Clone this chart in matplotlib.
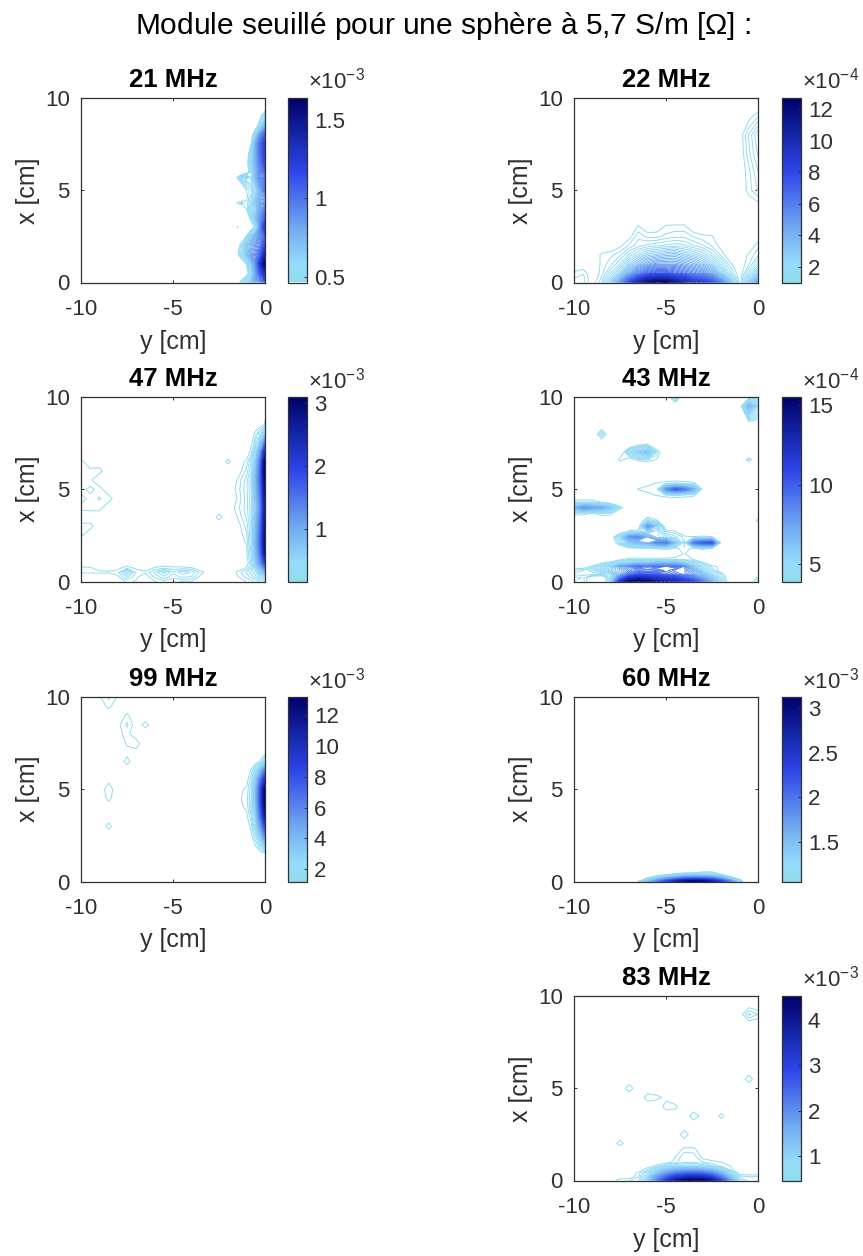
import numpy as np
import matplotlib
matplotlib.use('Agg')
import matplotlib.pyplot as plt
from matplotlib.colors import LinearSegmentedColormap, Normalize
from matplotlib.cm import ScalarMappable

plt.rcParams['font.family'] = ['Liberation Sans', 'DejaVu Sans']
plt.rcParams['mathtext.fontset'] = 'stix'
plt.rcParams['mathtext.default'] = 'regular'
plt.rcParams['axes.unicode_minus'] = False

W, H = 863, 1256
main_title = 'Module seuillé pour une sphère à 5,7 S/m ['
xlabel_text = 'y [cm]'
ylabel_text = 'x [cm]'
xticks = [-10, -5, 0]
yticks = [0, 5, 10]

# ---- 21 MHz (units 1e-3)
y21 = [-10, -2, -1.5, -1.25, -1, -.75, -.5, -.25, 0]
x21 = [0, .5, 1, 1.5, 2, 2.5, 3, 3.5, 4, 4.3, 4.7, 5, 5.4, 5.7, 6, 6.5, 7, 7.5, 8, 8.5, 9, 9.3, 10]
z21 = [
 [0, .2, .42, .52, .6, .7, .85, .95, 1.1],
 [0, .1, .25, .35, .42, .55, .85, 1.1, 1.35],
 [0, .1, .3, .38, .47, .65, .9, 1.3, 1.64],
 [0, .2, .45, .55, .7, .85, .95, 1.1, 1.4],
 [0, .2, .42, .52, .7, .8, .9, 1.0, 1.2],
 [0, .1, .3, .38, .47, .65, .8, .95, 1.1],
 [0, .05, .48, .2, .3, .4, .5, .9, 1.3],
 [0, .1, .2, .3, .4, .5, .7, .9, 1.1],
 [0, .1, .3, .35, .47, .6, .7, .85, 1.0],
 [0, .2, .48, .5, .47, .55, .7, .85, .95],
 [0, .1, .3, .38, .45, .52, .65, .8, .9],
 [0, .1, .3, .38, .47, .5, .6, .8, 1.0],
 [0, .15, .4, .48, .55, .6, .7, .9, 1.05],
 [0, .2, .48, .6, .65, .55, .75, .95, 1.05],
 [0, .1, .25, .35, .4, .55, .75, .95, 1.1],
 [0, .05, .2, .3, .42, .6, .8, 1.0, 1.2],
 [0, .05, .2, .3, .4, .55, .8, 1.05, 1.25],
 [0, .02, .15, .2, .3, .47, .8, 1.05, 1.25],
 [0, 0, .1, .15, .2, .4, .6, .9, 1.1],
 [0, 0, .05, .1, .15, .25, .4, .55, .75],
 [0, 0, 0, .05, .1, .15, .25, .45, .55],
 [0, 0, 0, 0, .05, .1, .2, .35, .46],
 [0, 0, 0, 0, 0, .05, .1, .2, .3],
]

# ---- 22 MHz (units 1e-4)
y22 = [-10, -9.5, -9, -8.5, -8, -7.5, -7, -6.5, -6, -5.5, -5, -4.5, -4, -3.5, -3, -2.5, -2, -1.5, -1, -.5, 0]
x22 = [0, .2, .5, 1, 1.5, 2, 2.5, 3, 3.5, 4, 5, 6, 7, 8, 9, 9.5, 10]
z22 = [
 [1.3, 1.3, .7, 1.5, 3, 5, 8, 10.5, 12, 12.7, 12.5, 11.5, 10.5, 9.5, 9, 8, 6, 3.5, .7, 3, 5],
 [1.25, 1.35, .6, 1.3, 2.5, 4, 6.5, 8.5, 10, 10.5, 10.5, 9.5, 9, 8, 7.5, 6.5, 4.5, 2.5, .7, 2.5, 4],
 [1.05, 1.2, .5, 1.1, 2, 3, 4.5, 6, 7, 7.5, 7.5, 7, 6.5, 6, 5.5, 4.5, 3, 1.6, .6, 1.8, 3],
 [.2, .4, .4, 1.05, 1.4, 2, 3, 3.8, 4.5, 5, 5, 5, 4.6, 4.2, 3.6, 2.8, 1.9, 1.05, .5, 1.2, 2],
 [0, .1, .2, 1.05, 1.15, 1.4, 2, 2.5, 3, 3.2, 3.5, 3.6, 3.2, 2.8, 2.4, 1.8, 1.15, .6, .4, 1.05, 1.4],
 [0, 0, 0, .3, .7, .9, 1.3, 1.6, 1.8, 1.9, 2.0, 2.1, 2.0, 1.7, 1.5, 1.2, .85, .3, .2, .7, 1.15],
 [0, 0, 0, .1, .2, .4, .85, 1.4, 1.15, 1.15, 1.3, 1.4, 1.4, 1.2, 1.05, 1.02, .3, .1, .1, .3, .75],
 [0, 0, 0, 0, 0, .1, .4, 1.05, .75, .8, 1.06, 1.08, 1.08, .7, .4, .2, 0, 0, 0, .1, .3],
 [0, 0, 0, 0, 0, 0, .1, .2, .2, .3, .3, .3, .3, .2, .1, 0, 0, 0, 0, .1, .3],
 [0, 0, 0, 0, 0, 0, 0, 0, 0, 0, 0, 0, 0, 0, 0, 0, 0, 0, 0, .2, .6],
 [0, 0, 0, 0, 0, 0, 0, 0, 0, 0, 0, 0, 0, 0, 0, 0, 0, 0, .3, 1.1, 1.5],
 [0, 0, 0, 0, 0, 0, 0, 0, 0, 0, 0, 0, 0, 0, 0, 0, 0, 0, .4, 1.15, 1.7],
 [0, 0, 0, 0, 0, 0, 0, 0, 0, 0, 0, 0, 0, 0, 0, 0, 0, 0, .7, 1.4, 2.0],
 [0, 0, 0, 0, 0, 0, 0, 0, 0, 0, 0, 0, 0, 0, 0, 0, 0, 0, .75, 1.5, 2.2],
 [0, 0, 0, 0, 0, 0, 0, 0, 0, 0, 0, 0, 0, 0, 0, 0, 0, 0, .3, .85, 1.2],
 [0, 0, 0, 0, 0, 0, 0, 0, 0, 0, 0, 0, 0, 0, 0, 0, 0, 0, .2, .5, .7],
 [0, 0, 0, 0, 0, 0, 0, 0, 0, 0, 0, 0, 0, 0, 0, 0, 0, 0, 0, .2, .4],
]

# ---- 47 MHz (units 1e-3)
y47 = [-10, -9.5, -9, -8.5, -8, -7.5, -7, -6.5, -6, -5.5, -5, -4.5, -4, -3.5, -3, -2.5, -2, -1.5, -1, -.75, -.5, -.25, 0]
x47 = [0, .25, .5, .75, 1, 1.5, 2, 2.5, 3, 3.5, 4, 4.5, 5, 5.5, 6, 6.5, 7, 8, 8.5, 10]
z47 = [
 [.18, .1, .08, .08, .1, .18, .16, .1, .16, .2, .18, .16, .16, .1, .06, .05, .05, .1, .17, .2, .25, .3, .35],
 [.1, .1, .1, .1, .15, .3, .18, .12, .24, .33, .25, .3, .28, .14, .05, .02, .05, .16, .25, .3, .38, .5, .6],
 [.18, .18, .18, .18, .2, .45, .22, .18, .3, .44, .3, .38, .34, .2, .05, .02, .05, .18, .3, .4, .5, .7, .9],
 [.18, .17, .14, .12, .14, .2, .14, .11, .17, .2, .18, .18, .17, .08, .02, 0, .02, .1, .17, .3, .6, .9, 1.4],
 [.02, .02, .02, .02, .03, .04, .02, .02, .04, .05, .04, .04, .03, .01, 0, 0, 0, .05, .08, .3, .7, 1.2, 2.0],
 [0, 0, 0, 0, 0, 0, 0, 0, 0, 0, 0, 0, 0, 0, 0, 0, 0, .02, .15, .35, .8, 1.5, 2.7],
 [.02, 0, 0, 0, 0, 0, 0, 0, 0, 0, 0, 0, 0, 0, 0, 0, 0, .04, .17, .4, .9, 1.6, 2.9],
 [.18, .05, 0, 0, 0, 0, 0, 0, 0, 0, 0, 0, 0, 0, 0, 0, 0, .08, .22, .42, .9, 1.6, 2.85],
 [.2, .2, .03, 0, 0, 0, 0, 0, 0, 0, 0, 0, 0, 0, 0, 0, 0, .12, .25, .42, .85, 1.5, 2.8],
 [.02, .1, .02, 0, 0, 0, 0, 0, 0, 0, 0, 0, 0, 0, .05, .2, .02, .17, .3, .45, .8, 1.4, 2.7],
 [.19, .2, .2, .05, .02, 0, 0, 0, 0, 0, 0, 0, 0, 0, 0, .1, .02, .2, .32, .45, .75, 1.3, 2.6],
 [.13, .2, .16, .21, .02, 0, 0, 0, 0, 0, 0, 0, 0, 0, 0, 0, 0, .17, .32, .45, .8, 1.4, 2.7],
 [.2, .25, .2, .03, 0, 0, 0, 0, 0, 0, 0, 0, 0, 0, 0, 0, 0, .19, .33, .47, .85, 1.5, 2.8],
 [.19, .18, .05, 0, 0, 0, 0, 0, 0, 0, 0, 0, 0, 0, 0, 0, 0, .17, .32, .48, .9, 1.6, 3.0],
 [.2, .19, .2, 0, 0, 0, 0, 0, 0, 0, 0, 0, 0, 0, 0, 0, 0, .06, .25, .4, .8, 1.6, 3.1],
 [.19, .04, .02, 0, 0, 0, 0, 0, 0, 0, 0, 0, 0, 0, 0, 0, .19, .02, .19, .35, .7, 1.5, 3.05],
 [.02, 0, 0, 0, 0, 0, 0, 0, 0, 0, 0, 0, 0, 0, 0, 0, 0, 0, .1, .2, .5, 1.1, 2.4],
 [0, 0, 0, 0, 0, 0, 0, 0, 0, 0, 0, 0, 0, 0, 0, 0, 0, 0, 0, .03, .2, .35, .6],
 [0, 0, 0, 0, 0, 0, 0, 0, 0, 0, 0, 0, 0, 0, 0, 0, 0, 0, 0, 0, .02, .06, .18],
 [0, 0, 0, 0, 0, 0, 0, 0, 0, 0, 0, 0, 0, 0, 0, 0, 0, 0, 0, 0, 0, 0, 0],
]

# ---- 43 MHz (units 1e-4)
y43 = [-10, -9.5, -9, -8.5, -8, -7.5, -7, -6.5, -6, -5.5, -5, -4.5, -4, -3.5, -3, -2.5, -2, -1.5, -1, -.5, 0]
x43 = [0, .2, .4, .6, .8, 1, 1.2, 1.5, 1.8, 2.1, 2.4, 2.7, 3, 3.3, 3.7, 4, 4.3, 4.7, 5, 5.3, 5.7, 6.3, 6.6, 7, 7.4, 8, 8.5, 9.5, 10]
z43 = [
 [4.2, 4.3, 3, 3, 5, 12, 15, 15.5, 15, 14, 13.5, 13, 12, 11, 9, 7, 5, 3, 2, 2.5, 4.5],
 [4, 4.2, 3.5, 3.2, 4.5, 9, 12, 13, 12.5, 12, 11.5, 11, 10, 9, 7.5, 6, 4.5, 3, 1.5, 2, 4.1],
 [4.5, 4.5, 4.5, 4.5, 5, 7, 9, 10, 10, 10, 9.5, 9, 8.5, 7.5, 6.5, 5, 4.2, 2, 1, 1, 3],
 [4.2, 4.4, 4.8, 5.5, 6, 7, 8, 8.5, 8.5, 8.5, 9, 8.5, 8.5, 7, 5.5, 4.5, 3.5, 1, 0, 0, 0],
 [3.5, 3.6, 4.1, 4.8, 5.5, 7.5, 8.5, 9.5, 9, 9.5, 9, 9.5, 8.5, 6, 4.8, 4.1, 3.8, 0, 0, 0, 0],
 [2, 2, 3, 3.9, 4.3, 5, 5.5, 6, 6, 6.5, 6.5, 6.5, 5.5, 4.8, 4.1, 3.5, 1, 0, 0, 0, 0],
 [0, 0, 1, 2, 3, 3.8, 4.1, 4.1, 4.1, 4.1, 4.1, 4.1, 4.1, 3.9, 2, 1, 0, 0, 0, 0, 0],
 [0, 0, 0, 0, 1, 2, 2, 2, 2, 2, 2, 3.6, 4.0, 2, 1, 0, 0, 0, 0, 0, 0],
 [0, 0, 0, 0, 2, 3, 3.8, 3.9, 3.9, 4, 4.1, 3.9, 3.98, 3.9, 4.1, 3.9, 3.6, 0, 0, 0, 0],
 [0, 0, 0, 0, 3, 4.5, 6, 6.5, 7, 8.5, 9, 6, 3.8, 9, 10, 10.5, 3.5, 0, 0, 0, 0],
 [0, 0, 0, 0, 3.5, 5, 8, 8.5, 7, 5.5, 5, 4.5, 4.1, 4, 4.1, 4, 3, 0, 0, 0, 0],
 [0, 0, 0, 0, 1, 3.5, 4.1, 4.2, 5, 5.5, 4.2, 4, 2, 1, 0, 0, 0, 0, 0, 0, 0],
 [0, 0, 0, 0, 0, 0, 2, 3, 8, 6, 3, 1, 0, 0, 0, 0, 0, 0, 0, 0, 0],
 [0, 0, 0, 0, 0, 0, 0, 2, 4.5, 4, 1, 0, 0, 0, 0, 0, 0, 0, 0, 0, 4.1],
 [4.1, 4.1, 3.9, 4.2, 4.1, 2, 0, 0, 0, 0, 0, 0, 0, 0, 0, 0, 0, 0, 0, 0, 0],
 [6.5, 8, 7.5, 7, 6, 4.2, 0, 0, 0, 0, 0, 0, 0, 0, 0, 0, 0, 0, 0, 0, 0],
 [4.2, 4.2, 4.2, 3.9, 2, 1, 0, 0, 0, 0, 0, 0, 0, 0, 0, 0, 0, 0, 0, 0, 0],
 [0, 0, 0, 0, 0, 0, 2, 3, 3.8, 4, 4.2, 4.3, 4.2, 4.1, 2, 0, 0, 0, 0, 0, 0],
 [0, 0, 0, 0, 0, 0, 3.5, 4, 4.1, 4.0, 8, 10, 9, 7, 3.5, 0, 0, 0, 0, 0, 0],
 [0, 0, 0, 0, 0, 0, 2, 3, 3.8, 4, 4.2, 4.3, 4.2, 4.1, 2, 0, 0, 0, 0, 0, 0],
 [0, 0, 0, 0, 0, 0, 0, 0, 0, 0, 0, 0, 0, 0, 0, 0, 0, 0, 0, 0, 0],
 [0, 0, 0, 0, 0, 0, 0, 0, 0, 0, 0, 0, 0, 0, 0, 0, 0, 0, 0, 0, 0],
 [4.0, 2, 0, 0, 0, 4.1, 3.6, 4.1, 4.2, 3.9, 1, 0, 0, 0, 0, 0, 0, 0, 0, 4.2, 2],
 [0, 0, 0, 0, 0, 1, 5, 6, 6.5, 4.3, 1, 0, 0, 0, 0, 0, 0, 0, 0, 0, 0],
 [0, 0, 0, 0, 0, 0, 2, 3.9, 4.0, 2, 0, 0, 0, 0, 0, 0, 0, 0, 0, 0, 0],
 [0, 0, 0, 4.5, 0, 0, 0, 0, 0, 0, 0, 0, 0, 0, 0, 0, 0, 0, 0, 0, 0],
 [0, 0, 0, 0, 0, 0, 0, 0, 0, 0, 0, 0, 0, 0, 0, 0, 0, 0, 0, 1, 1],
 [0, 0, 0, 0, 0, 0, 0, 0, 0, 0, 0, 3, 0, 0, 0, 0, 0, 0, 0, 7, 5.5],
 [0, 0, 0, 0, 0, 0, 0, 0, 0, 0, 0, 4.8, 0, 0, 0, 0, 0, 0, 0, 3.5, 3.5],
]

# ---- 99 MHz (units 1e-3)
y99 = [-10, -9.5, -9, -8.5, -8, -7.5, -7, -6.5, -6, -5, -2, -1, -.75, -.5, -.25, 0]
x99 = [0, 1.5, 2, 2.5, 3, 3.5, 4, 4.5, 5, 5.5, 6, 6.5, 7, 7.5, 8, 8.5, 9, 9.5, 10]
z99 = [
 [0, 0, 0, 0, 0, 0, 0, 0, 0, 0, 0, 0, 0, 0, 0, 0],
 [0, 0, 0, 0, 0, 0, 0, 0, 0, 0, 0, .3, .4, .5, .7, 1.0],
 [0, 0, 0, 0, 0, 0, 0, 0, 0, 0, 0, .6, .8, 1.25, 2, 3.5],
 [0, 0, 0, 0, 0, 0, 0, 0, 0, 0, 0, .8, 1.1, 1.8, 3.5, 6],
 [0, 0, 0, 1.32, 0, 0, 0, 0, 0, 0, 0, 1.0, 1.3, 2.5, 5, 8.5],
 [0, 0, 0, 0, 0, 0, 0, 0, 0, 0, 0, 1.1, 1.6, 3, 6.5, 11],
 [0, 0, 0, .6, 0, 0, 0, 0, 0, 0, 0, 1.25, 2, 3.5, 7.5, 12.5],
 [0, 0, 0, 1.3, .8, 0, 0, 0, 0, 0, 0, 1.3, 2, 3.8, 8, 13.2],
 [0, 0, .9, 1.4, .7, 0, 0, 0, 0, 0, 0, 1.25, 1.9, 3.8, 8, 13],
 [0, 0, .5, 1.1, .2, 0, 0, 0, 0, 0, 0, 1.05, 1.6, 3.3, 6.5, 10],
 [0, 0, 0, 0, 0, 0, 0, 0, 0, 0, 0, .8, 1.25, 2.2, 4, 6.5],
 [0, 0, 0, 0, .2, 1.32, .4, 0, 0, 0, 0, .5, .7, .9, 1.25, 2.2],
 [0, 0, 0, 0, .6, 1.1, 1.1, .3, 0, 0, 0, .1, .2, .3, .5, .8],
 [0, 0, 0, 0, .9, 1.25, 1.35, .3, 0, 0, 0, 0, 0, 0, 0, 0],
 [0, 0, 0, 0, 1.1, 1.3, .8, .2, 0, 0, 0, 0, 0, 0, 0, 0],
 [0, 0, 0, 0, 1.1, 1.5, 1.0, 1.33, 0, 0, 0, 0, 0, 0, 0, 0],
 [0, 0, 0, 0, .8, 1.27, .7, 0, 0, 0, 0, 0, 0, 0, 0, 0],
 [0, 0, .3, 1.3, .3, 0, 0, 0, 0, 0, 0, 0, 0, 0, 0, 0],
 [0, 0, 1.15, 1.5, 1.15, 0, 0, 0, 0, 0, 0, 0, 0, 0, 0, 0],
]

# ---- 60 MHz (units 1e-3)
y60 = [-10, -7, -6.5, -6, -5.5, -5, -4.5, -4, -3.5, -3, -2.5, -2, -1.5, -1, -.5, 0]
x60 = [0, .1, .2, .3, .4, .5, .6, 1, 10]
z60 = [
 [0, .7, 1.1, 1.5, 1.9, 2.3, 2.7, 3.0, 3.12, 3.05, 2.8, 2.4, 1.9, 1.25, .8, .4],
 [0, .5, .9, 1.25, 1.6, 1.9, 2.2, 2.4, 2.5, 2.45, 2.3, 2.0, 1.5, 1.12, .6, .3],
 [0, .3, .7, 1.08, 1.3, 1.55, 1.7, 1.9, 1.95, 1.95, 1.85, 1.6, 1.2, .9, .4, .2],
 [0, .2, .5, .85, 1.1, 1.25, 1.4, 1.5, 1.5, 1.5, 1.45, 1.3, 1.0, .6, .3, .1],
 [0, .1, .3, .6, .85, 1.0, 1.12, 1.2, 1.2, 1.2, 1.2, 1.05, .7, .4, .2, .1],
 [0, 0, .2, .4, .6, .8, .9, 1.0, 1.0, 1.12, 1.12, .8, .5, .3, .1, 0],
 [0, 0, .1, .2, .4, .5, .6, .7, .7, .8, .8, .5, .3, .2, .1, 0],
 [0, 0, 0, 0, .1, .1, .2, .2, .2, .2, .2, .1, 0, 0, 0, 0],
 [0, 0, 0, 0, 0, 0, 0, 0, 0, 0, 0, 0, 0, 0, 0, 0],
]

# ---- 83 MHz (units 1e-3)
y83 = [-10, -9.5, -9, -8.5, -8, -7.5, -7, -6.5, -6, -5.5, -5, -4.5, -4, -3.5, -3, -2.5, -2, -1.5, -1, -.5, 0]
x83 = [0, .2, .4, .6, .8, 1, 1.3, 1.7, 2, 2.5, 3, 3.5, 4, 4.5, 5, 5.5, 6, 8.5, 9, 9.5, 10]
z83 = [
 [0, 0, 0, 0, .1, .55, .55, .6, 1.2, 2.2, 3.2, 4, 4.4, 4.5, 4.5, 4, 3, 1.8, .8, .6, .62],
 [0, 0, 0, 0, 0, .2, .2, .55, 1.0, 1.8, 2.5, 3.1, 3.4, 3.5, 3.4, 3, 2.2, 1.3, .6, .56, .56],
 [0, 0, 0, 0, 0, 0, .1, .5, .8, 1.3, 1.8, 2.2, 2.4, 2.5, 2.4, 2.1, 1.5, .9, .3, .35, .35],
 [0, 0, 0, 0, 0, 0, 0, .2, .55, .85, 1.2, 1.4, 1.5, 1.5, 1.4, 1.2, .9, .5, .2, .1, .1],
 [0, 0, 0, 0, 0, 0, 0, 0, .3, .5, .65, .8, .85, .85, .8, .65, .5, .47, .1, 0, 0],
 [0, 0, 0, 0, 0, 0, 0, 0, .1, .3, .4, .52, .62, .62, .55, .5, .47, .2, 0, 0, 0],
 [0, 0, 0, 0, 0, 0, 0, 0, 0, .1, .2, .46, .62, .6, .42, .2, .1, 0, 0, 0, 0],
 [0, 0, 0, 0, 0, 0, 0, 0, 0, 0, 0, .2, .5, .5, .1, 0, 0, 0, 0, 0, 0],
 [0, 0, 0, 0, 0, .52, 0, 0, 0, 0, 0, 0, 0, 0, 0, 0, 0, 0, 0, 0, 0],
 [0, 0, 0, 0, 0, 0, 0, 0, 0, 0, 0, .1, .54, .1, 0, 0, 0, 0, 0, 0, 0],
 [0, 0, 0, 0, 0, 0, 0, 0, 0, 0, 0, 0, 0, 0, .44, 0, 0, 0, 0, 0, 0],
 [0, 0, 0, 0, 0, 0, 0, 0, 0, 0, 0, 0, 0, .54, .42, 0, .5, 0, 0, 0, 0],
 [0, 0, 0, 0, 0, 0, 0, 0, 0, 0, .52, .5, .3, 0, 0, 0, 0, 0, 0, 0, 0],
 [0, 0, 0, 0, 0, 0, 0, 0, .53, .5, .44, 0, 0, 0, 0, 0, 0, 0, 0, 0, 0],
 [0, 0, 0, 0, 0, 0, .53, 0, 0, 0, 0, 0, 0, 0, 0, 0, 0, 0, 0, 0, 0],
 [0, 0, 0, 0, 0, 0, 0, 0, 0, 0, 0, 0, 0, 0, 0, 0, 0, 0, 0, .53, 0],
 [0, 0, 0, 0, 0, 0, 0, 0, 0, 0, 0, 0, 0, 0, 0, 0, 0, 0, 0, 0, 0],
 [0, 0, 0, 0, 0, 0, 0, 0, 0, 0, 0, 0, 0, 0, 0, 0, 0, 0, 0, 0, 0],
 [0, 0, 0, 0, 0, 0, 0, 0, 0, 0, 0, 0, 0, 0, 0, 0, 0, 0, 0, .66, .55],
 [0, 0, 0, 0, 0, 0, 0, 0, 0, 0, 0, 0, 0, 0, 0, 0, 0, 0, 0, .4, .3],
 [0, 0, 0, 0, 0, 0, 0, 0, 0, 0, 0, 0, 0, 0, 0, 0, 0, 0, 0, 0, 0],
]

# title, y grid, x grid, values, noise floor, colour min, colour max, colourbar ticks, labels, exponent
panels = [
 ('21 MHz', y21, x21, z21, 0, .464, 1.638, [.5, 1, 1.5], ['0.5', '1', '1.5'], -3),
 ('22 MHz', y22, x22, z22, .7, .99, 12.7, [2, 4, 6, 8, 10, 12], None, -4),
 ('47 MHz', y47, x47, z47, .1, .167, 3.1, [1, 2, 3], None, -3),
 ('43 MHz', y43, x43, z43, 3.3, 3.93, 15.5, [5, 10, 15], None, -4),
 ('99 MHz', y99, x99, z99, .95, 1.2, 13.2, [2, 4, 6, 8, 10, 12], None, -3),
 ('60 MHz', y60, x60, z60, 0, 1.06, 3.12, [1.5, 2, 2.5, 3], ['1.5', '2', '2.5', '3'], -3),
 ('83 MHz', y83, x83, z83, .38, .47, 4.52, [1, 2, 3, 4], None, -3),
]
# pixel boxes: axes left, colourbar left, axes top
boxes = [(81, 288, 98), (574, 782, 98), (81, 288, 397), (574, 782, 397),
         (81, 288, 697), (574, 782, 697), (574, 782, 996)]
AXW, AXH, CBW = 184, 184.5, 19
GRAY = '#303030'
N_LEVELS = 50

cmap = LinearSegmentedColormap.from_list('blues_matlab', [
    (0.00, '#8fdcee'), (0.10, '#95dcfb'), (0.30, '#6fa8f0'),
    (0.60, '#2e45e8'), (0.80, '#1525a8'), (1.00, '#00006a')])

fig = plt.figure(figsize=(W / 100, H / 100), dpi=100)

def frac(l, t, w, h):
    return [l / W, 1 - (t + h) / H, w / W, h / H]

for (title, ys, xs, zs, floor, vmin, vmax, cticks, clabels, exp), (al, cl, top) in zip(panels, boxes):
    ax = fig.add_axes(frac(al, top, AXW, AXH))
    levels = np.linspace(vmin, vmax, N_LEVELS)
    norm = Normalize(vmin, vmax)
    ax.contour(ys, xs, np.maximum(np.array(zs), floor), levels=levels, cmap=cmap, norm=norm, linewidths=0.7)
    ax.set_xlim(-10, 0)
    ax.set_ylim(0, 10)
    ax.set_xticks(xticks)
    ax.set_yticks(yticks)
    ax.tick_params(direction='in', length=2, width=0.7, top=True, right=True,
                   labelsize=16, colors=GRAY)
    ax.tick_params(axis='x', pad=12)
    ax.tick_params(axis='y', pad=8)
    ax.set_xlabel(xlabel_text, fontsize=18, color=GRAY, va='center')
    ax.xaxis.set_label_coords(0.5, -59 / AXH)
    ax.set_ylabel(ylabel_text, fontsize=18, color=GRAY, va='center')
    ax.yaxis.set_label_coords(-53 / AXW, 0.5)
    ax.set_title(title, fontsize=18.5, fontweight='bold', color='black', pad=8)
    for s in ax.spines.values():
        s.set_linewidth(0.9)
        s.set_color(GRAY)

    cax = fig.add_axes(frac(cl, top, CBW, AXH))
    cb = fig.colorbar(ScalarMappable(norm=norm, cmap=cmap), cax=cax)
    cb.set_ticks(cticks)
    if clabels:
        cb.set_ticklabels(clabels)
    cax.tick_params(direction='in', length=2, width=0.7, labelsize=16, colors=GRAY, pad=5)
    cb.outline.set_linewidth(0.9)
    cb.outline.set_edgecolor(GRAY)
    fig.text((cl + 20) / W, 1 - (top - 9) / H, r'$\times$10$^{%d}$' % exp,
             fontsize=16, color=GRAY, ha='left', va='baseline',
             family=['Liberation Sans', 'DejaVu Sans'])

fig.text(443.5 / W, 1 - 34 / H, main_title + r'$\Omega$] :', fontsize=21.5, color='black',
         ha='center', va='baseline')

fig.savefig('out.png', dpi=100)
